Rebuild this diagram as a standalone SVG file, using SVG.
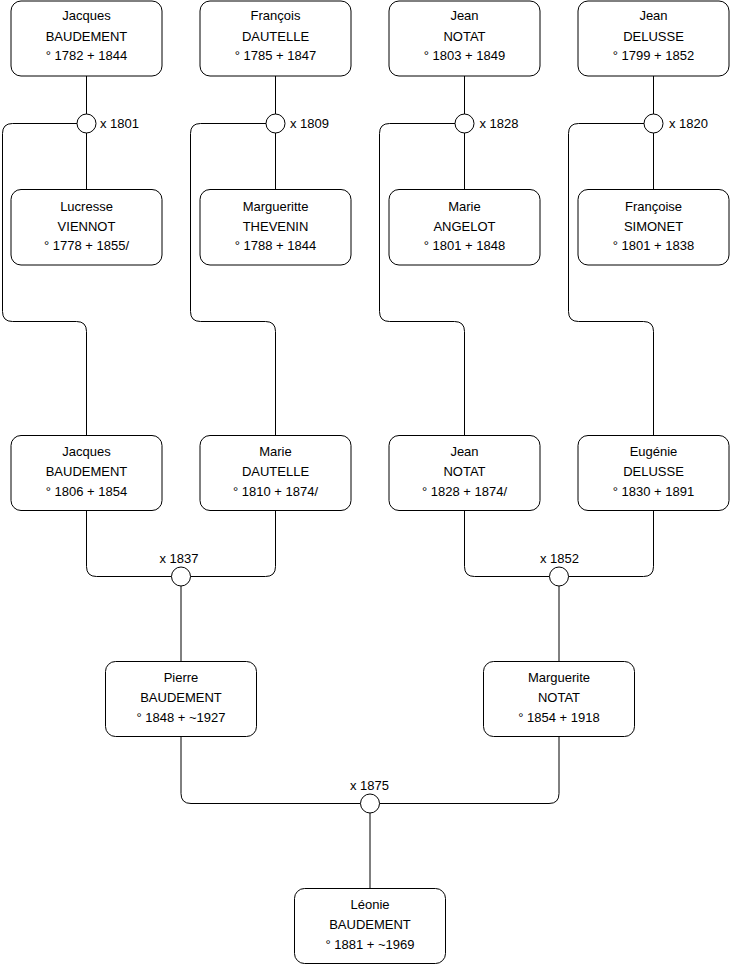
<svg xmlns="http://www.w3.org/2000/svg" width="740" height="975" viewBox="0 0 740 975">
<style>
.box{fill:#fff;stroke:#000;stroke-width:1}
.m{fill:#fff;stroke:#000;stroke-width:1}
.c{fill:none;stroke:#000;stroke-width:1}
text{font-family:"Liberation Sans",Arial,sans-serif;font-size:13px;fill:#000}
.n{text-anchor:middle}
</style>
<rect width="740" height="975" fill="#fff"/>
<g id="connectors">
<!-- top row parent links -->
<path class="c" d="M86.5 76V189.5M275.5 76V189.5M464.5 76V189.5M653.5 76V189.5"/>
<!-- brackets down to children -->
<path class="c" d="M77 123.5H12.5Q2.5 123.5 2.5 133.5V311.5Q2.5 321.5 12.5 321.5H76.5Q86.5 321.5 86.5 331.5V435.5"/>
<path class="c" d="M266 123.5H200.5Q190.5 123.5 190.5 133.5V311.5Q190.5 321.5 200.5 321.5H265.5Q275.5 321.5 275.5 331.5V435.5"/>
<path class="c" d="M455 123.5H389.5Q379.5 123.5 379.5 133.5V311.5Q379.5 321.5 389.5 321.5H454.5Q464.5 321.5 464.5 331.5V435.5"/>
<path class="c" d="M644 123.5H578.5Q568.5 123.5 568.5 133.5V311.5Q568.5 321.5 578.5 321.5H643.5Q653.5 321.5 653.5 331.5V435.5"/>
<!-- x 1837 -->
<path class="c" d="M86.5 510.5V566.5Q86.5 576.5 96.5 576.5H171.5M190.5 576.5H265.5Q275.5 576.5 275.5 566.5V510.5M181 586V661.5"/>
<!-- x 1852 -->
<path class="c" d="M464.5 510.5V566.5Q464.5 576.5 474.5 576.5H549.5M568.5 576.5H643.5Q653.5 576.5 653.5 566.5V510.5M559 586V661.5"/>
<!-- x 1875 -->
<path class="c" d="M181 736.5V793.5Q181 803.5 191 803.5H360.5M379.5 803.5H549Q559 803.5 559 793.5V736.5M370 813V888.5"/>
</g>
<g id="m1801"><circle class="m" cx="86.5" cy="123.5" r="9.5"/><text x="100" y="128">x 1801</text></g>
<g id="m1809"><circle class="m" cx="275.5" cy="123.5" r="9.5"/><text x="290" y="128">x 1809</text></g>
<g id="m1828"><circle class="m" cx="464.5" cy="123.5" r="9.5"/><text x="479.5" y="128">x 1828</text></g>
<g id="m1820"><circle class="m" cx="653.5" cy="123.5" r="9.5"/><text x="669" y="128">x 1820</text></g>
<g id="m1837"><circle class="m" cx="181" cy="576.5" r="9.5"/><text class="n" x="179" y="563">x 1837</text></g>
<g id="m1852"><circle class="m" cx="559" cy="576.5" r="9.5"/><text class="n" x="559.5" y="563">x 1852</text></g>
<g id="m1875"><circle class="m" cx="370" cy="803.5" r="9.5"/><text class="n" x="369.5" y="790">x 1875</text></g>

<g id="jacques1782"><rect class="box" x="11" y="1" width="151" height="75" rx="10"/><text class="n" x="86.5" y="20">Jacques</text><text class="n" x="86.5" y="40.5">BAUDEMENT</text><text class="n" x="86.5" y="60">° 1782 + 1844</text></g>
<g id="francois1785"><rect class="box" x="200" y="1" width="151" height="75" rx="10"/><text class="n" x="275.5" y="20">François</text><text class="n" x="275.5" y="40.5">DAUTELLE</text><text class="n" x="275.5" y="60">° 1785 + 1847</text></g>
<g id="jean1803"><rect class="box" x="389" y="1" width="151" height="75" rx="10"/><text class="n" x="464.5" y="20">Jean</text><text class="n" x="464.5" y="40.5">NOTAT</text><text class="n" x="464.5" y="60">° 1803 + 1849</text></g>
<g id="jean1799"><rect class="box" x="578" y="1" width="151" height="75" rx="10"/><text class="n" x="653.5" y="20">Jean</text><text class="n" x="653.5" y="40.5">DELUSSE</text><text class="n" x="653.5" y="60">° 1799 + 1852</text></g>

<g id="lucresse"><rect class="box" x="11" y="189.5" width="151" height="75.5" rx="10"/><text class="n" x="86.5" y="210.5">Lucresse</text><text class="n" x="86.5" y="230.5">VIENNOT</text><text class="n" x="86.5" y="250">° 1778 + 1855/</text></g>
<g id="margueritte"><rect class="box" x="200" y="189.5" width="151" height="75.5" rx="10"/><text class="n" x="275.5" y="210.5">Margueritte</text><text class="n" x="275.5" y="230.5">THEVENIN</text><text class="n" x="275.5" y="250">° 1788 + 1844</text></g>
<g id="marieAngelot"><rect class="box" x="389" y="189.5" width="151" height="75.5" rx="10"/><text class="n" x="464.5" y="210.5">Marie</text><text class="n" x="464.5" y="230.5">ANGELOT</text><text class="n" x="464.5" y="250">° 1801 + 1848</text></g>
<g id="francoise"><rect class="box" x="578" y="189.5" width="151" height="75.5" rx="10"/><text class="n" x="653.5" y="210.5">Françoise</text><text class="n" x="653.5" y="230.5">SIMONET</text><text class="n" x="653.5" y="250">° 1801 + 1838</text></g>

<g id="jacques1806"><rect class="box" x="11" y="435.5" width="151" height="75" rx="10"/><text class="n" x="86.5" y="456">Jacques</text><text class="n" x="86.5" y="476">BAUDEMENT</text><text class="n" x="86.5" y="496">° 1806 + 1854</text></g>
<g id="marieDautelle"><rect class="box" x="200" y="435.5" width="151" height="75" rx="10"/><text class="n" x="275.5" y="456">Marie</text><text class="n" x="275.5" y="476">DAUTELLE</text><text class="n" x="275.5" y="496">° 1810 + 1874/</text></g>
<g id="jean1828"><rect class="box" x="389" y="435.5" width="151" height="75" rx="10"/><text class="n" x="464.5" y="456">Jean</text><text class="n" x="464.5" y="476">NOTAT</text><text class="n" x="464.5" y="496">° 1828 + 1874/</text></g>
<g id="eugenie"><rect class="box" x="578" y="435.5" width="151" height="75" rx="10"/><text class="n" x="653.5" y="456">Eugénie</text><text class="n" x="653.5" y="476">DELUSSE</text><text class="n" x="653.5" y="496">° 1830 + 1891</text></g>

<g id="pierre"><rect class="box" x="105.5" y="661.5" width="151" height="75" rx="10"/><text class="n" x="181" y="682">Pierre</text><text class="n" x="181" y="702">BAUDEMENT</text><text class="n" x="181" y="722">° 1848 + ~1927</text></g>
<g id="marguerite"><rect class="box" x="483.5" y="661.5" width="151" height="75" rx="10"/><text class="n" x="559" y="682">Marguerite</text><text class="n" x="559" y="702">NOTAT</text><text class="n" x="559" y="722">° 1854 + 1918</text></g>

<g id="leonie"><rect class="box" x="294.5" y="888.5" width="151" height="75" rx="10"/><text class="n" x="370" y="909">Léonie</text><text class="n" x="370" y="929">BAUDEMENT</text><text class="n" x="370" y="949">° 1881 + ~1969</text></g>
</svg>
